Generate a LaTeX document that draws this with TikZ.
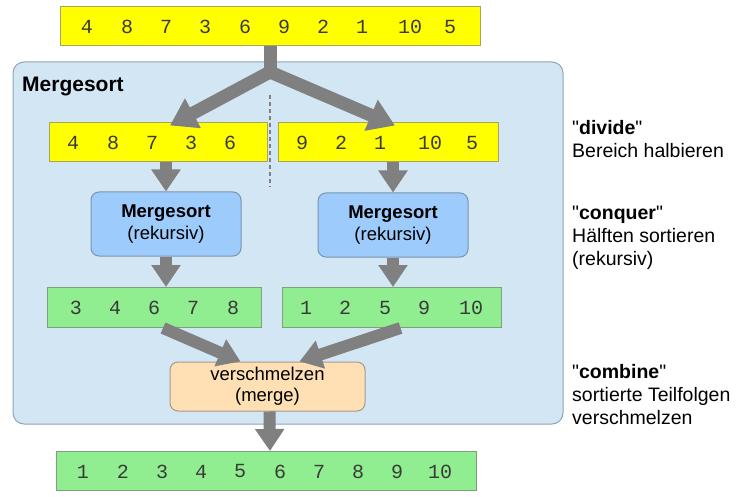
\documentclass[tikz,border=0pt]{standalone}
\usepackage{fontspec}
\setmainfont{Liberation Sans}
\newfontfamily\monof{Liberation Mono}
\newfontfamily\qf{Liberation Sans}[Ligatures=Common]
\usetikzlibrary{arrows.meta,calc}
\definecolor{yel}{HTML}{FFFF00}
\definecolor{yelb}{HTML}{A6A45E}
\definecolor{grn}{HTML}{90EE90}
\definecolor{grnb}{HTML}{7FA07F}
\definecolor{panel}{HTML}{D2E6F4}
\definecolor{panelb}{HTML}{8FA3BA}
\definecolor{msort}{HTML}{9DCBFB}
\definecolor{msortb}{HTML}{7A94B0}
\definecolor{mrg}{HTML}{FFE0B5}
\definecolor{mrgb}{HTML}{A8988A}
\definecolor{arr}{HTML}{808080}
\definecolor{numc}{HTML}{3A3A3A}
\newcommand{\dq}{{\qf\char34}}
\tikzset{
  ybox/.style={draw=yelb, fill=yel, line width=1pt, inner sep=0pt},
  gbox/.style={draw=grnb, fill=grn, line width=1pt, inner sep=0pt},
  mbox/.style={draw=msortb, fill=msort, line width=1pt, rounded corners=8pt, inner sep=0pt, align=center, font=\fontsize{18.5}{22}\selectfont},
  rbox/.style={draw=mrgb, fill=mrg, line width=1pt, rounded corners=8pt, inner sep=0pt, align=center, font=\fontsize{18.5}{21}\selectfont},
  num/.style={font=\monof\fontsize{20}{20}\selectfont, text=numc, inner sep=0pt},
  bigarr/.style={draw=arr, line width=12pt, -{Triangle[width=28pt,length=22pt]}},
  splitarr/.style={draw=arr, line width=13pt, -{Triangle[width=32pt,length=26pt]}},
  side/.style={font=\fontsize{19.5}{23}\selectfont, align=left, inner sep=0pt, anchor=north west}
}
\begin{document}
\begin{tikzpicture}[x=1pt,y=-1pt]
\useasboundingbox (0,0) rectangle (747,497);
% panel
\node[draw=panelb, fill=panel, line width=1pt, rounded corners=11pt, minimum width=550pt, minimum height=362pt, inner sep=0pt] (panel) at (288,243) {};
\node[anchor=west, inner sep=0pt, font=\bfseries\fontsize{21}{24}\selectfont] (title) at (22,87) {Mergesort};
% boxes
\node[ybox, minimum width=420pt, minimum height=39pt] (top) at (270,26.5) {};
\node[ybox, minimum width=218pt, minimum height=39pt] (ly) at (158,142.5) {};
\node[ybox, minimum width=220pt, minimum height=39pt] (ry) at (388,142.5) {};
\node[mbox, minimum width=150pt, minimum height=64pt] (lm) at (166,224) {\textbf{Mergesort}\\(rekursiv)};
\node[mbox, minimum width=150pt, minimum height=64pt] (rm) at (393,225) {\textbf{Mergesort}\\(rekursiv)};
\node[gbox, minimum width=214pt, minimum height=40pt] (lg) at (154,307.5) {};
\node[gbox, minimum width=219pt, minimum height=40pt] (rg) at (391.5,307.5) {};
\node[rbox, minimum width=195pt, minimum height=49pt] (mg) at (267.5,386.5) {verschmelzen\\(merge)};
\node[gbox, minimum width=420pt, minimum height=39pt] (fg) at (266,471) {};
% numbers
\foreach \v/\x [count=\i] in {4/87,8/127,7/166,3/205,6/245,9/284,2/323,1/362,10/410,5/450}
  \node[num] (t\i) at (\x,27) {\v};
\foreach \v/\x [count=\i] in {4/73,8/113,7/152,3/191,6/230}
  \node[num] (a\i) at (\x,143) {\v};
\foreach \v/\x [count=\i] in {9/302,2/341,1/380,10/430,5/472}
  \node[num] (b\i) at (\x,143) {\v};
\foreach \v/\x [count=\i] in {3/76,4/115,6/154,7/193,8/233}
  \node[num] (c\i) at (\x,308) {\v};
\foreach \v/\x [count=\i] in {1/306,2/345,5/385,9/424,10/471}
  \node[num] (d\i) at (\x,308) {\v};
\foreach \v/\x [count=\i] in {1/83,2/123,3/162,4/201,5/240,6/280,7/319,8/358,9/397,10/440}
  \node[num] (e\i) at (\x,471.5) {\v};
% dashed divider
\coordinate (dtop) at (270,95);
\coordinate (dbot) at (270,187);
\draw[arr, line width=1.5pt, dash pattern=on 4pt off 3pt] (dtop) -- (dbot);
% split arrows
\coordinate (split) at (270,72);
\draw[draw=arr, line width=13pt] (top.south) -- ($(split)+(0,6)$);
\draw[splitarr] (split) -- ($(ly.north)+(12,3)$);
\draw[splitarr] (split) -- ($(ry.north)+(7,3)$);
\fill[arr] (split) circle (6.5pt);
% down arrows
\draw[bigarr] (lm.north |- ly.south) -- (lm.north);
\draw[bigarr] (rm.north |- ry.south) -- (rm.north);
\draw[bigarr] (lm.south) -- (lm.south |- lg.north);
\draw[bigarr] (rm.south) -- (rm.south |- rg.north);
% merge arrows
\draw[bigarr] ($(lg.south)+(9,0)$) -- ($(mg.north)+(-27,0)$);
\draw[bigarr] ($(rg.south)+(9,0)$) -- ($(mg.north)+(32,0)$);
\draw[bigarr] ($(mg.south)+(2,0)$) -- ($(fg.north)+(4,0)$);
% side texts
\node[side] (s1) at (572,120) {\dq\textbf{divide}\dq\\Bereich halbieren};
\node[side] (s2) at (572,206) {\dq\textbf{conquer}\dq\\Hälften sortieren\\(rekursiv)};
\node[side] (s3) at (572,364) {\dq\textbf{combine}\dq\\sortierte Teilfolgen\\verschmelzen};
\end{tikzpicture}
\end{document}
